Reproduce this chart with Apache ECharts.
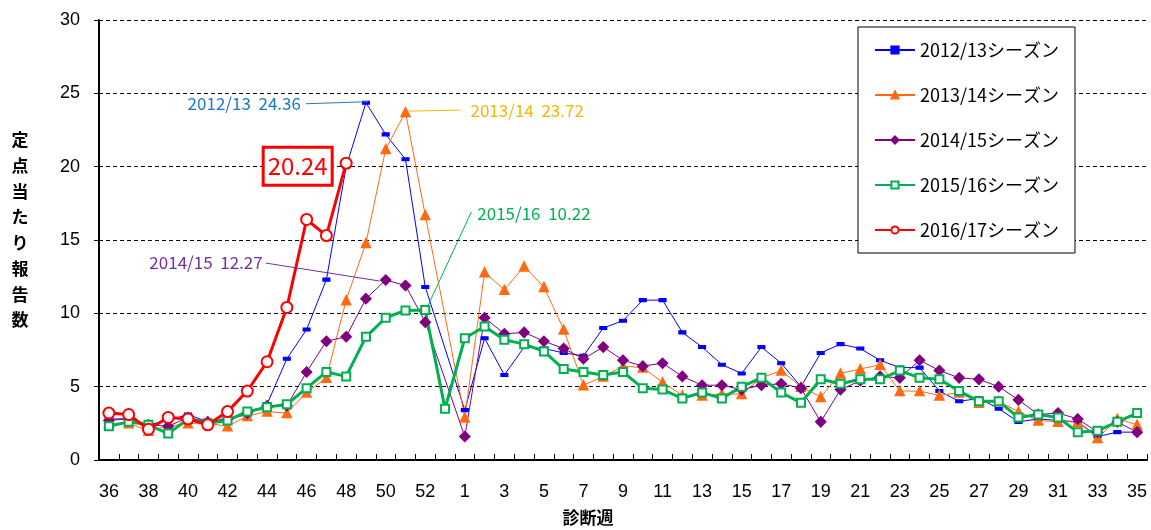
<!DOCTYPE html>
<html><head><meta charset="utf-8">
<script src="https://cdn.jsdelivr.net/npm/echarts@6/dist/echarts.min.js"></script>
<style>html,body{margin:0;padding:0;background:#fff}#c{width:1151px;height:530px}</style>
</head><body><div id="c"></div>
<script>
// categories: diagnosis week (week 53 exists only in 2015/16 season)
const weeks = ['36','37','38','39','40','41','42','43','44','45','46','47','48','49','50','51','52','53',
  '1','2','3','4','5','6','7','8','9','10','11','12','13','14','15','16','17','18','19','20',
  '21','22','23','24','25','26','27','28','29','30','31','32','33','34','35'];
const yTicks = [0, 5, 10, 15, 20, 25, 30];
const seasonNames = ['2012/13シーズン','2013/14シーズン','2014/15シーズン','2015/16シーズン','2016/17シーズン'];

const s1213 = [2.8,2.8,2.4,2.7,3.1,2.6,2.8,3.1,3.8,6.9,8.9,12.3,20.0,24.36,22.2,20.5,11.8,null,
  3.4,8.3,5.8,7.7,7.6,7.3,7.1,9.0,9.5,10.9,10.9,8.7,7.7,6.5,5.9,7.7,6.6,5.0,7.3,7.9,
  7.6,6.8,6.3,6.3,4.7,4.0,4.2,3.5,2.6,2.8,2.7,2.6,1.6,1.9,1.9];
const s1314 = [2.5,2.5,2.0,2.3,2.5,2.5,2.3,3.0,3.3,3.2,4.6,5.6,10.9,14.8,21.2,23.72,16.7,null,
  2.9,12.8,11.6,13.2,11.8,8.9,5.1,5.7,6.4,6.3,5.3,4.4,4.4,4.5,4.5,5.6,6.1,5.0,4.3,5.9,
  6.2,6.5,4.7,4.7,4.4,4.6,3.9,4.0,3.3,2.7,2.6,2.6,1.5,2.8,2.4];
const s1415 = [2.7,2.8,2.4,2.3,2.9,2.6,2.8,3.2,3.7,3.7,6.0,8.1,8.4,11.0,12.27,11.9,9.4,null,
  1.6,9.7,8.6,8.7,8.1,7.6,6.9,7.7,6.8,6.4,6.6,5.7,5.1,5.1,4.8,5.1,5.2,4.9,2.6,4.8,
  5.4,5.7,5.6,6.8,6.1,5.6,5.5,5.0,4.1,3.1,3.2,2.8,1.9,2.6,1.9];
const s1516 = [2.3,2.6,2.4,1.8,2.8,2.5,2.7,3.3,3.6,3.8,4.9,6.0,5.7,8.4,9.7,10.2,10.22,3.5,
  8.3,9.1,8.2,7.9,7.4,6.2,6.0,5.8,6.0,4.9,4.8,4.2,4.6,4.2,5.0,5.6,4.6,3.9,5.5,5.2,
  5.5,5.5,6.1,5.6,5.5,4.7,4.0,4.0,2.9,3.1,2.9,1.9,2.0,2.6,3.2];
const s1617 = [3.2,3.1,2.1,2.9,2.8,2.4,3.3,4.7,6.7,10.4,16.4,15.3,20.24];

const chart = echarts.init(document.getElementById('c'));
const baseFont = "'Liberation Sans', Arial, sans-serif";
const jpFont = "'Noto Sans CJK JP', sans-serif";

function lineSeries(name, data, color, width, symbol, size, extra) {
  return Object.assign({
    name: name, type: 'line', data: data, connectNulls: true,
    symbol: symbol, symbolSize: size,
    lineStyle: { color: color, width: width },
    itemStyle: { color: color, borderColor: color, borderWidth: 1.5 },
    emphasis: { disabled: true }
  }, extra || {});
}

chart.setOption({
  animation: false,
  grid: { left: 99, right: 4, top: 20, bottom: 70 },
  xAxis: {
    type: 'category', data: weeks, boundaryGap: true,
    axisLine: { lineStyle: { color: '#000', width: 2 } },
    axisTick: { show: true, inside: true, length: 6, interval: 0, lineStyle: { color: '#000', width: 1 } },
    axisLabel: { interval: 1, margin: 23, fontSize: 18, color: '#000',
      fontFamily: "'Liberation Sans Narrow', 'Liberation Sans', sans-serif" },
    splitLine: { show: false }
  },
  yAxis: {
    type: 'value', min: yTicks[0], max: yTicks[yTicks.length - 1], interval: 5,
    axisLine: { show: true, lineStyle: { color: '#000', width: 2 } },
    axisTick: { show: true, length: 5, lineStyle: { color: '#000', width: 1 } },
    axisLabel: { margin: 19, fontSize: 18, color: '#000', fontFamily: baseFont },
    splitLine: { show: true, lineStyle: { color: '#000', type: [4, 3], width: 1 } }
  },
  legend: {
    orient: 'vertical', left: 858, top: 27,
    padding: [13, 16, 13, 16], itemGap: 25, itemWidth: 40, itemHeight: 9,
    borderColor: '#000', borderWidth: 1, backgroundColor: '#fff',
    textStyle: { fontSize: 18, color: '#000', fontFamily: jpFont, lineHeight: 20 },
    data: seasonNames
  },
  series: [
    lineSeries(seasonNames[0], s1213, '#0000ff', 1, 'rect', [6, 3]),
    lineSeries(seasonNames[1], s1314, '#ff6a10', 1, 'triangle', 9),
    lineSeries(seasonNames[2], s1415, '#800080', 1, 'diamond', 10),
    lineSeries(seasonNames[3], s1516, '#00b050', 3, 'emptyRect', 8),
    lineSeries(seasonNames[4], s1617, '#ff0000', 3, 'emptyCircle', 11)
  ]
});

function peakIndex(arr) {
  let best = 0;
  arr.forEach((v, i) => { if (v != null && v > arr[best]) best = i; });
  return best;
}
function px(arr) {
  const i = peakIndex(arr);
  return chart.convertToPixel({ gridIndex: 0 }, [i, arr[i]]);
}
function textEl(x, y, text, color, size, align) {
  return { type: 'text', x: x, y: y, z: 100,
    style: { text: text, fill: color, fontSize: size, fontFamily: jpFont,
      textAlign: align, align: align, textVerticalAlign: 'middle', verticalAlign: 'middle' } };
}
function lineEl(x1, y1, x2, y2, color) {
  return { type: 'line', z: 100, shape: { x1: x1, y1: y1, x2: x2, y2: y2 },
    style: { stroke: color, lineWidth: 1 } };
}

const g = [];
let p;
p = px(s1213);
g.push(lineEl(p[0] + 2, p[1] - 1, p[0] - 60, p[1] + 1, '#1e78c8'));
g.push(textEl(p[0] - 65, p[1] + 1, '2012/13  ' + s1213[peakIndex(s1213)].toFixed(2), '#1e78c8', 17, 'right'));
p = px(s1314);
g.push(lineEl(p[0] + 3, p[1] - 1, p[0] + 55, p[1] - 2, '#f5b800'));
g.push(textEl(p[0] + 65, p[1] - 2, '2013/14  ' + s1314[peakIndex(s1314)].toFixed(2), '#f5b800', 17, 'left'));
p = px(s1415);
g.push(lineEl(p[0] - 6, p[1] + 1, p[0] - 120, p[1] - 17, '#7030a0'));
g.push(textEl(p[0] - 123, p[1] - 17, '2014/15  ' + s1415[peakIndex(s1415)].toFixed(2), '#7030a0', 17, 'right'));
p = px(s1516);
g.push(lineEl(p[0] + 3, p[1] - 5, p[0] + 46, p[1] - 98, '#00b050'));
g.push(textEl(p[0] + 52, p[1] - 97, '2015/16  ' + s1516[peakIndex(s1516)].toFixed(2), '#00b050', 17, 'left'));
p = px(s1617);
g.push({ type: 'rect', z: 100, shape: { x: p[0] - 83, y: p[1] - 16, width: 69, height: 38 },
  style: { fill: '#fff', stroke: '#ff0000', lineWidth: 3 } });
g.push(textEl(p[0] - 48.5, p[1] + 3, s1617[peakIndex(s1617)].toFixed(2), '#ff0000', 24, 'center'));

// axis titles
g.push({ type: 'text', x: 20, y: 127, style: { text: '定\n点\n当\nた\nり\n報\n告\n数', fill: '#000',
  fontSize: 17, fontWeight: 'bold', fontFamily: jpFont, lineHeight: 25.7,
  textAlign: 'center', align: 'center', textVerticalAlign: 'top', verticalAlign: 'top' } });
g.push({ type: 'text', x: 588, y: 518, style: { text: '診断週', fill: '#000',
  fontSize: 17, fontWeight: 'bold', fontFamily: jpFont,
  textAlign: 'center', align: 'center', textVerticalAlign: 'middle', verticalAlign: 'middle' } });

chart.setOption({ graphic: g });
</script>
</body></html>
